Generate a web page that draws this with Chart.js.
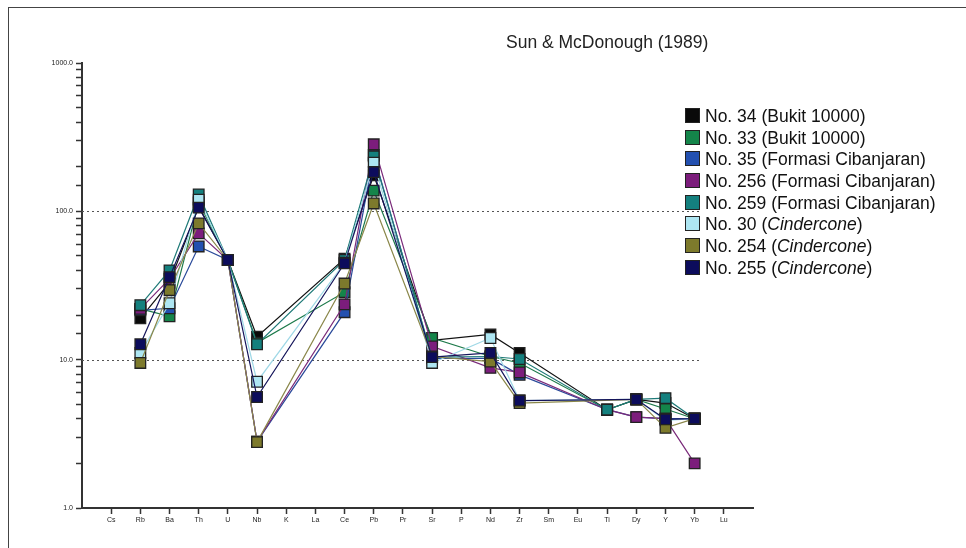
<!DOCTYPE html>
<html>
<head>
<meta charset="utf-8">
<script src="https://cdn.jsdelivr.net/npm/chart.js@4/dist/chart.umd.min.js"></script>
<style>
  body { margin: 0; background: #fff; font-family: "Liberation Sans", Arial, sans-serif; }
  #wrap { position: relative; width: 966px; height: 548px; overflow: hidden; }
  #frame { position: absolute; left: 8px; top: 7px; width: 970px; height: 560px;
           border-top: 1.5px solid #444; border-left: 1.5px solid #444; }
  #title { position: absolute; left: 506px; top: 32px; font-size: 17.5px; color: #222; white-space: nowrap; }
  #legend { position: absolute; left: 685px; top: 106px; font-size: 17.5px; color: #111; }
  .row { height: 21.7px; line-height: 21.7px; white-space: nowrap; }
  .box { display: inline-block; width: 13px; height: 13px; border: 1px solid #222;
         vertical-align: -1px; margin-right: 5px; }
</style>
</head>
<body>
<div id="wrap">
  <div id="frame"></div>
  <canvas id="spider" width="966" height="548"></canvas>
  <div id="title">Sun &amp; McDonough (1989)</div>
  <div id="legend"></div>
</div>
<script>
// normalised to primitive mantle, Sun & McDonough (1989)
const elements = ["Cs","Rb","Ba","Th","U","Nb","K","La","Ce","Pb","Pr","Sr","P","Nd","Zr","Sm","Eu","Ti","Dy","Y","Yb","Lu"];

const s34  = [null, 19,   33,   108, 47, 14.3, null, null, 48,   175, null, 13.5, null, 14.8, 11.1, null, null, 4.6,  5.4, 5.1,  4.0, null];
const s33  = [null, 22,   19.6, 115, 47, 13,   null, null, 28.5, 138, null, 14,   null, 10.5, 9.5,  null, null, 4.6,  5.4, 4.65, 4.0, null];
const s35  = [null, 21.5, 22.2, 58,  47, 2.8,  null, null, 20.9, 240, null, 10.2, null, 10.2, 7.9,  null, null, 4.6,  4.1, 4.0,  4.0, null];
const s256 = [null, 22,   35,   71,  47, 2.8,  null, null, 23.6, 283, null, 12.3, null, 8.8,  8.2,  null, null, 4.6,  4.1, 4.0,  2.0, null];
const s259 = [null, 23.3, 40,   130, 47, 12.7, null, null, 47,   235, null, 10.4, null, 10.5, 10.1, null, null, 4.6,  5.4, 5.5,  4.0, null];
const s30  = [null, 11.1, 24,   120, 47, 7.1,  null, null, 45,   213, null, 9.5,  null, 14,   5.3,  null, null, null, 5.4, 3.9,  4.0, null];
const s254 = [null, 9.5,  29.4, 83,  47, 2.78, null, null, 32.6, 113, null, 10.5, null, 9.7,  5.1,  null, null, null, 5.4, 3.47, 4.0, null];
const s255 = [null, 12.7, 36,   106, 47, 5.6,  null, null, 44.6, 184, null, 10.4, null, 11.1, 5.3,  null, null, null, 5.4, 3.96, 4.0, null];

const names = [
  "No. 34 (Bukit 10000)",
  "No. 33 (Bukit 10000)",
  "No. 35 (Formasi Cibanjaran)",
  "No. 256 (Formasi Cibanjaran)",
  "No. 259 (Formasi Cibanjaran)",
  "No. 30 (<i>Cindercone</i>)",
  "No. 254 (<i>Cindercone</i>)",
  "No. 255 (<i>Cindercone</i>)"
];
const series = [s34, s33, s35, s256, s259, s30, s254, s255];
const colors = ["#0a0a0a", "#14854a", "#2350b0", "#7c1d7c", "#14807e", "#aee6f2", "#7d7a2c", "#0c0c5c"];
const lineColors = ["#111111", "#1d7a4a", "#2a4a9a", "#7a2a7a", "#1f7a78", "#9fd8e6", "#8a874a", "#14145a"];

function toPoints(vals) {
  const pts = [];
  vals.forEach((v, i) => { if (v !== null) pts.push({x: i, y: v}); });
  return pts;
}

// later samples drawn on top
const datasets = series.map((vals, k) => ({
  label: names[k],
  data: toPoints(vals),
  order: -k,
  borderColor: lineColors[k],
  borderWidth: 1.2,
  backgroundColor: colors[k],
  pointStyle: "rect",
  pointRadius: 7.5,
  pointBorderColor: "#222",
  pointBorderWidth: 1.3,
  pointBackgroundColor: colors[k],
  tension: 0
}));

const refLines = {
  id: "refLines",
  beforeDatasetsDraw(chart) {
    const ctx = chart.ctx, xs = chart.scales.x, ys = chart.scales.y;
    ctx.save();
    ctx.strokeStyle = "#555";
    ctx.lineWidth = 1.2;
    ctx.setLineDash([2, 3]);
    [10, 100].forEach(v => {
      const py = Math.round(ys.getPixelForValue(v)) + 0.5;
      ctx.beginPath();
      ctx.moveTo(chart.chartArea.left, py);
      ctx.lineTo(xs.getPixelForValue(20.15), py);
      ctx.stroke();
    });
    ctx.restore();
  }
};

new Chart(document.getElementById("spider"), {
  type: "line",
  data: { datasets: datasets },
  options: {
    responsive: false,
    animation: false,
    layout: { padding: { top: 63, right: 213, left: 0, bottom: 0 } },
    plugins: { legend: { display: false }, tooltip: { enabled: false } },
    scales: {
      x: {
        type: "linear",
        min: -1,
        max: 22,
        afterBuildTicks: scale => { scale.ticks = elements.map((e, i) => ({value: i})); },
        afterFit: scale => { scale.height = 40; },
        ticks: {
          autoSkip: false,
          maxRotation: 0,
          padding: 2,
          color: "#222",
          font: { size: 7, family: "Liberation Sans" },
          callback: v => elements[v]
        },
        grid: { drawOnChartArea: false, tickLength: 6, tickColor: "#333", tickWidth: 1.5 },
        border: { color: "#333", width: 2 }
      },
      y: {
        type: "logarithmic",
        min: 1,
        max: 1000,
        afterFit: scale => { scale.width = 82; },
        ticks: {
          autoSkip: false,
          padding: 3,
          color: "#222",
          font: { size: 7, family: "Liberation Sans" },
          callback: v => {
            const l = Math.log10(v);
            return Math.abs(l - Math.round(l)) < 1e-9 ? v.toFixed(1) : "";
          }
        },
        grid: { drawOnChartArea: false, tickLength: 6, tickColor: "#333", tickWidth: 1.5 },
        border: { color: "#333", width: 2 }
      }
    }
  },
  plugins: [refLines]
});

const legend = document.getElementById("legend");
names.forEach((n, k) => {
  const row = document.createElement("div");
  row.className = "row";
  row.innerHTML = '<span class="box" style="background:' + colors[k] + '"></span>' + n;
  legend.appendChild(row);
});
</script>
</body>
</html>
